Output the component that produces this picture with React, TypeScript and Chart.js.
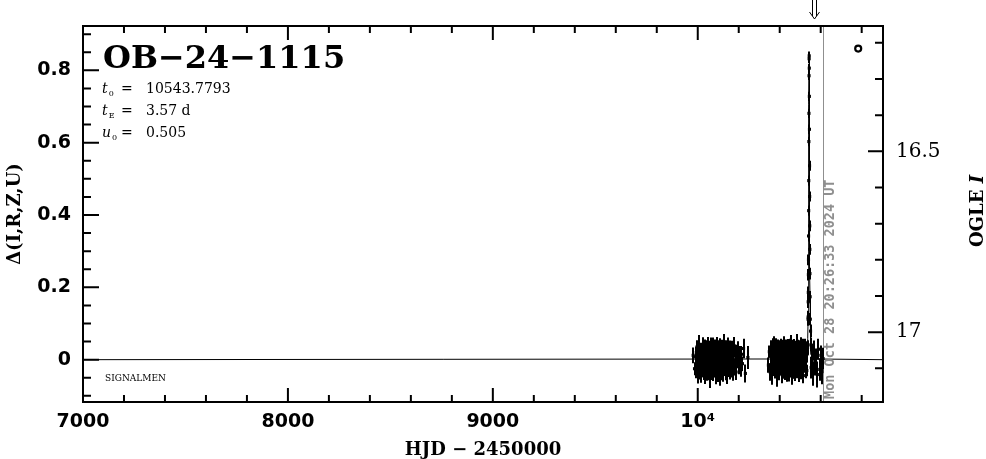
import React, { useEffect, useRef } from 'react';
import { Chart, registerables } from 'chart.js';

Chart.register(...registerables);

// ---------- texts ----------
const eventName = 'OB−24−1115';
const t0Text = '10543.7793';
const tEText = '3.57 d';
const u0Text = '0.505';
const surveyNote = 'SIGNALMEN';
const dateStamp = 'Mon Oct 28 20:26:33 2024 UT';
const xTitle = 'HJD − 2450000';
const yTitle = 'Δ(I,R,Z,U)';
const magTitleMain = 'OGLE ';
const magTitleBand = 'I';

// ---------- axes ----------
const xMin = 7000;
const xMax = 10904;
const yMin = -0.117;
const yMax = 0.9225;
const magTop = 16.1535;
const magBottom = 17.193;
const xMajorTicks = [7000, 8000, 9000, 10000];
const xMinorStep = 200;
const yMajorTicks = [0, 0.2, 0.4, 0.6, 0.8];
const yMinorStep = 0.05;
const magMajorTicks = [16.5, 17];
const magMinorStep = 0.1;

// ---------- markers ----------
const dateStampHjd = 10612.35;
const arrowHjd = 10565;
const ogleMarkerHjd = [10783];
const ogleMarkerDelta = [0.86];

// ---------- 2023 season (HJD-2450000, delta in mmag, error in mmag) ----------
const s23Hjd = [
  9977.6, 9984.2, 9989.5, 9991.8, 9993.1, 9994.9, 9996.0, 9997.6, 9998.8, 10000.4,
  10001.3, 10003.0, 10004.2, 10005.9, 10006.8, 10008.6, 10009.5, 10011.3, 10012.4, 10014.1,
  10015.0, 10016.9, 10017.8, 10019.6, 10020.5, 10022.4, 10023.3, 10025.1, 10026.2, 10027.9,
  10028.8, 10030.7, 10031.6, 10033.4, 10034.5, 10036.3, 10037.1, 10039.0, 10039.9, 10041.8,
  10042.6, 10044.5, 10045.4, 10047.3, 10048.2, 10050.0, 10051.0, 10052.8, 10053.7, 10055.6,
  10056.4, 10058.3, 10059.2, 10061.1, 10061.9, 10063.8, 10064.7, 10066.6, 10067.5, 10069.3,
  10070.2, 10072.1, 10073.0, 10074.9, 10075.7, 10077.6, 10078.5, 10080.4, 10081.3, 10083.1,
  10084.0, 10085.9, 10086.8, 10088.7, 10089.5, 10091.4, 10092.3, 10094.2, 10095.1, 10096.9,
  10097.8, 10099.7, 10100.6, 10102.5, 10103.3, 10105.2, 10106.1, 10108.0, 10108.9, 10110.7,
  10111.6, 10113.5, 10114.4, 10116.3, 10117.1, 10119.0, 10119.9, 10121.8, 10122.7, 10124.5,
  10125.4, 10127.3, 10128.2, 10130.1, 10130.9, 10132.8, 10133.7, 10135.6, 10136.5, 10138.3,
  10139.2, 10141.1, 10142.0, 10143.9, 10144.7, 10146.6, 10147.5, 10149.4, 10150.3, 10152.1,
  10153.0, 10154.9, 10155.8, 10157.7, 10158.5, 10160.4, 10161.3, 10163.2, 10164.1, 10165.9,
  10167.6, 10169.8, 10171.5, 10174.2, 10176.4, 10179.1, 10181.3, 10184.6, 10187.2, 10190.5,
  10193.8, 10197.6, 10201.0, 10204.9, 10209.3, 10213.2, 10218.1, 10223.5, 10232.4, 10244.6,
];
const s23DeltaMmag = [
  12, -25, 8, -31, 20, -4, 35, -18, 3, -40, 27, -9, 15, -22, 41, -1, -33, 10, 24, -14,
  6, -45, 30, -7, 18, -27, 2, 38, -19, 11, -36, 22, -5, 29, -12, 7, -42, 16, 33, -24,
  -2, 19, -38, 9, 26, -16, 44, -29, 4, -11, 31, -21, 13, -47, 21, -6, 37, -17, 1, -34,
  25, -10, 14, -39, 43, -3, -26, 17, 8, -30, 34, -13, 5, -44, 28, -8, 12, -23, 46, -15,
  -1, 23, -37, 10, 32, -20, 3, -48, 39, -11, 18, -28, 6, 40, -19, 15, -35, 27, -4, 9,
  -41, 20, -14, 48, -25, 2, 30, -9, -32, 13, 36, -18, 7, -43, 24, -6, 42, -22, 11, -31,
  19, -2, -37, 26, 5, -16, 33, -27, 14, -8, 29, -40, 3, 21, -13, 38, -24, 10, -34, 17,
  -5, 25, -19, 8, -29, 15, -11, 31, -38, 6,
];
const s23ErrMmag = [
  22, 18, 25, 20, 16, 28, 19, 23, 17, 26, 21, 15, 24, 19, 27, 18, 22, 30, 16, 20,
  25, 19, 17, 23, 28, 21, 18, 24, 16, 26, 20, 22, 15, 27, 19, 23, 25, 17, 21, 29,
  18, 24, 20, 16, 26, 22, 19, 28, 17, 23, 21, 25, 18, 31, 20, 16, 24, 19, 27, 22,
  17, 23, 26, 20, 18, 29, 21, 15, 25, 19, 22, 28, 16, 24, 20, 18, 26, 23, 17, 21,
  27, 19, 25, 16, 22, 30, 18, 24, 20, 17, 23, 28, 21, 15, 26, 19, 22, 25, 18, 24,
  20, 27, 16, 23, 19, 29, 22, 17, 25, 21, 18, 26, 20, 24, 16, 28, 19, 23, 22, 17,
  25, 21, 18, 27, 20, 24, 16, 22, 29, 19, 23, 18, 26, 21, 17, 25, 20, 28, 22, 24,
  19, 26, 21, 30, 18, 23, 20, 27, 25, 32,
];

// ---------- 2024 season ----------
const s24Hjd = [
  10344.8, 10349.3, 10353.6, 10356.9, 10359.4, 10361.2, 10362.8, 10364.1, 10365.7, 10367.0,
  10368.4, 10369.9, 10371.2, 10372.6, 10374.1, 10375.4, 10376.9, 10378.3, 10379.6, 10381.0,
  10382.5, 10383.8, 10385.2, 10386.7, 10388.0, 10389.4, 10390.9, 10392.2, 10393.6, 10395.0,
  10396.5, 10397.8, 10399.2, 10400.7, 10402.0, 10403.4, 10404.9, 10406.2, 10407.6, 10409.0,
  10410.5, 10411.8, 10413.2, 10414.7, 10416.0, 10417.4, 10418.9, 10420.2, 10421.6, 10423.0,
  10424.5, 10425.8, 10427.2, 10428.7, 10430.0, 10431.4, 10432.9, 10434.2, 10435.6, 10437.0,
  10438.5, 10439.8, 10441.2, 10442.7, 10444.0, 10445.4, 10446.9, 10448.2, 10449.6, 10451.0,
  10452.5, 10453.8, 10455.2, 10456.7, 10458.0, 10459.4, 10460.9, 10462.2, 10463.6, 10465.0,
  10466.5, 10467.8, 10469.2, 10470.7, 10472.0, 10473.4, 10474.9, 10476.2, 10477.6, 10479.0,
  10480.5, 10481.8, 10483.2, 10484.7, 10486.0, 10487.4, 10488.9, 10490.2, 10491.6, 10493.0,
  10494.5, 10495.8, 10497.2, 10498.7, 10500.0, 10501.4, 10502.9, 10504.2, 10505.6, 10507.0,
  10508.5, 10509.8, 10511.2, 10512.7, 10514.0, 10515.4, 10516.9, 10518.2, 10519.6, 10521.0,
  10522.5, 10523.8, 10525.2, 10526.7, 10528.0, 10529.4, 10530.9, 10532.2, 10534.6, 10536.1,
  10553.4, 10556.8, 10561.2, 10566.5, 10571.9, 10577.3, 10583.6, 10589.1, 10595.4, 10600.8,
  10606.2, 10611.5,
];
const s24DeltaMmag = [
  -15, 22, -34, 9, 28, -6, 17, -41, 3, 36,
  -20, 12, -28, 44, -9, 25, -37, 6, 19, -13,
  33, -25, 1, -46, 23, -3, 15, -32, 40, -17,
  8, -39, 27, -11, 20, -29, 4, 37, -22, 13,
  -7, 31, -43, 18, -1, 26, -35, 11, 42, -19,
  5, -30, 21, -10, 34, -24, 14, -2, 29, -45,
  16, -14, 38, -27, 7, 24, -38, 2, 32, -16,
  10, -33, 45, -8, 19, -21, 27, -47, 13, -4,
  35, -26, 6, 41, -12, 22, -36, 17, -5, 30,
  -18, 9, 47, -31, 15, -9, 39, -23, 4, 28,
  -40, 20, -14, 33, -1, 24, -34, 12, 43, -20,
  8, -27, 36, -11, 18, -44, 26, -6, 14, 31,
  -17, 5, 37, -24, 21, -3, 29, -30, 16, 34,
  -22, 18, -38, 25, -12, 6, -41, 29, -27, 12,
  -33, 3,
];
const s24ErrMmag = [
  21, 17, 24, 19, 26, 16, 22, 28, 18, 23,
  20, 25, 17, 21, 27, 19, 15, 24, 22, 18,
  26, 20, 23, 29, 17, 21, 25, 19, 16, 24,
  22, 18, 27, 20, 23, 15, 26, 21, 19, 28,
  17, 24, 22, 16, 25, 20, 18, 27, 23, 21,
  19, 26, 17, 24, 22, 30, 18, 20, 25, 16,
  23, 21, 19, 27, 17, 24, 22, 18, 26, 20,
  28, 16, 23, 21, 19, 25, 17, 22, 24, 18,
  20, 27, 21, 16, 25, 19, 23, 29, 18, 22,
  26, 17, 24, 20, 21, 28, 16, 23, 19, 25,
  22, 18, 27, 21, 17, 24, 20, 26, 19, 23,
  16, 25, 22, 18, 28, 21, 24, 17, 20, 26,
  19, 23, 21, 27, 18, 25, 22, 16, 24, 20,
  30, 26, 34, 28, 32, 25, 36, 29, 31, 27,
  35, 30,
];

// ---------- event points ----------
const evHjd = [
  10538.2, 10538.6, 10539.0, 10539.5, 10539.9, 10540.4, 10540.8, 10541.3, 10541.7, 10542.2,
  10542.6, 10543.1, 10543.5, 10543.9, 10544.3, 10544.7, 10545.2, 10545.6, 10546.1, 10546.5,
  10547.0, 10547.5, 10548.3, 10549.2, 10550.4, 10551.7,
];
const evDelta = [
  0.112, 0.118, 0.160, 0.186, 0.235, 0.276, 0.342, 0.412, 0.495, 0.603,
  0.681, 0.785, 0.832, 0.840, 0.806, 0.728, 0.637, 0.536, 0.451, 0.370,
  0.305, 0.238, 0.174, 0.112, 0.079, 0.041,
];
const evErrMmag = [
  18, 17, 17, 16, 16, 15, 15, 14, 14, 13,
  13, 12, 12, 12, 12, 13, 13, 14, 14, 15,
  15, 16, 16, 17, 18, 19,
];

// ---------- PSPL model curve (t0 = 10543.7793, tE = 3.57, u0 = 0.505) ----------
const modelHjd = [
  7000, 10522.36, 10529.5, 10533.07, 10534.85, 10536.64, 10538.07, 10539.14, 10540.21, 10540.92,
  10541.64, 10541.99, 10542.35, 10542.71, 10543.07, 10543.42, 10543.78, 10544.14, 10544.49, 10544.85,
  10545.21, 10545.56, 10545.92, 10546.64, 10547.35, 10548.42, 10549.49, 10550.92, 10552.71, 10554.49,
  10558.06, 10565.2, 10904,
];
const modelDelta = [
  0, 0.002, 0.008, 0.017, 0.031, 0.059, 0.103, 0.161, 0.257, 0.352,
  0.477, 0.551, 0.629, 0.706, 0.774, 0.821, 0.839, 0.821, 0.774, 0.706,
  0.629, 0.551, 0.477, 0.352, 0.257, 0.161, 0.103, 0.059, 0.031, 0.017,
  0.008, 0.002, 0,
];

const toPoints = (xs: number[], ys: number[], scale = 1) => xs.map((x, i) => ({ x, y: ys[i] * scale }));

const errSets: [number[], number[], number, number[]][] = [
  [s23Hjd, s23DeltaMmag, 0.001, s23ErrMmag],
  [s24Hjd, s24DeltaMmag, 0.001, s24ErrMmag],
  [evHjd, evDelta, 1, evErrMmag],
];

const SERIF = '"DejaVu Serif", serif';
const SANS = '"DejaVu Sans", sans-serif';

const decorPlugin = {
  id: 'decor',
  beforeDatasetsDraw(chart: any) {
    const { ctx, chartArea: a, scales } = chart;
    const x = scales.x;
    const y = scales.y;
    ctx.save();
    ctx.beginPath();
    ctx.rect(a.left, a.top, a.right - a.left, a.bottom - a.top);
    ctx.clip();
    const gx = Math.round(x.getPixelForValue(dateStampHjd)) + 0.5;
    ctx.strokeStyle = '#8f8f8f';
    ctx.lineWidth = 1;
    ctx.beginPath();
    ctx.moveTo(gx, a.top);
    ctx.lineTo(gx, a.bottom);
    ctx.stroke();
    ctx.strokeStyle = '#000';
    ctx.lineWidth = 2;
    ctx.beginPath();
    for (const [xs, ds, k, es] of errSets) {
      for (let i = 0; i < xs.length; i++) {
        const px = Math.round(x.getPixelForValue(xs[i]));
        const d = ds[i] * k;
        const e = es[i] * 0.001;
        ctx.moveTo(px, y.getPixelForValue(d - e));
        ctx.lineTo(px, y.getPixelForValue(d + e));
      }
    }
    ctx.stroke();
    ctx.restore();
  },
  afterDraw(chart: any) {
    const { ctx, chartArea: a, scales } = chart;
    const x = scales.x;
    const y = scales.y;
    const m = scales.y2;
    ctx.save();
    // frame
    ctx.strokeStyle = '#000';
    ctx.lineWidth = 2;
    ctx.strokeRect(a.left, a.top, a.right - a.left, a.bottom - a.top);
    // ticks
    ctx.beginPath();
    for (let v = xMin; v <= xMax; v += xMinorStep) {
      const px = x.getPixelForValue(v);
      const len = xMajorTicks.includes(v) || v % 1000 === 0 ? 14 : 7;
      ctx.moveTo(px, a.bottom);
      ctx.lineTo(px, a.bottom - len);
      ctx.moveTo(px, a.top);
      ctx.lineTo(px, a.top + len);
    }
    for (let k = Math.ceil(yMin / yMinorStep); k * yMinorStep <= yMax; k++) {
      const v = k * yMinorStep;
      const py = y.getPixelForValue(v);
      const len = k % 4 === 0 ? 16 : 8;
      ctx.moveTo(a.left, py);
      ctx.lineTo(a.left + len, py);
    }
    for (let k = Math.ceil(magTop / magMinorStep); k * magMinorStep <= magBottom; k++) {
      const py = m.getPixelForValue(k * magMinorStep);
      const len = k % 5 === 0 ? 15 : 8;
      ctx.moveTo(a.right, py);
      ctx.lineTo(a.right - len, py);
    }
    ctx.stroke();

    // arrow at top
    const ax = Math.round(x.getPixelForValue(arrowHjd)) + 0.5;
    ctx.lineWidth = 1;
    ctx.beginPath();
    ctx.moveTo(ax - 2, 0);
    ctx.lineTo(ax - 2, 16);
    ctx.moveTo(ax + 2, 0);
    ctx.lineTo(ax + 2, 16);
    ctx.moveTo(ax - 5, 12);
    ctx.lineTo(ax, 19);
    ctx.lineTo(ax + 5, 12);
    ctx.stroke();

    // texts
    ctx.fillStyle = '#000';
    ctx.textAlign = 'left';
    ctx.textBaseline = 'alphabetic';
    ctx.font = `bold 32px ${SERIF}`;
    ctx.fillText(eventName, a.left + 20, 68);

    const pl = a.left + 19;
    const param = (sym: string, sub: string, val: string, base: number) => {
      ctx.font = `italic 14px ${SERIF}`;
      ctx.fillText(sym, pl, base);
      const w = ctx.measureText(sym).width;
      ctx.font = `8px ${SERIF}`;
      ctx.fillText(sub, pl + w + 1, base + 3);
      ctx.font = `14px ${SERIF}`;
      ctx.fillText('=', pl + 19, base);
      ctx.fillText(val, pl + 44, base);
    };
    param('t', '0', t0Text, 93);
    param('t', 'E', tEText, 115);
    param('u', '0', u0Text, 137);

    ctx.font = `9px ${SERIF}`;
    ctx.fillText(surveyNote, a.left + 22, 381);

    // x title
    ctx.font = `bold 18px ${SERIF}`;
    ctx.textAlign = 'center';
    ctx.fillText(xTitle, (a.left + a.right) / 2, 455);

    // y title
    const midY = (a.top + a.bottom) / 2;
    ctx.save();
    ctx.translate(20, midY);
    ctx.rotate(-Math.PI / 2);
    ctx.textAlign = 'center';
    ctx.fillText(yTitle, 0, 0);
    ctx.restore();

    // right title
    ctx.save();
    ctx.translate(983, midY - 3);
    ctx.rotate(-Math.PI / 2);
    ctx.textAlign = 'left';
    ctx.font = `bold 18px ${SERIF}`;
    const w1 = ctx.measureText(magTitleMain).width;
    ctx.font = `bold italic 18px ${SERIF}`;
    const w2 = ctx.measureText(magTitleBand).width;
    const start = -(w1 + w2) / 2;
    ctx.font = `bold 18px ${SERIF}`;
    ctx.fillText(magTitleMain, start, 0);
    ctx.font = `bold italic 18px ${SERIF}`;
    ctx.fillText(magTitleBand, start + w1, 0);
    ctx.restore();

    // date stamp
    const gx = x.getPixelForValue(dateStampHjd);
    ctx.save();
    ctx.translate(gx + 11, a.bottom - 3);
    ctx.rotate(-Math.PI / 2);
    ctx.textAlign = 'left';
    ctx.fillStyle = '#8f8f8f';
    ctx.font = `bold 13.5px "DejaVu Sans Mono", monospace`;
    ctx.fillText(dateStamp, 0, 0);
    ctx.restore();

    ctx.restore();
  },
};

export default function App() {
  const ref = useRef<HTMLCanvasElement | null>(null);
  useEffect(() => {
    if (!ref.current) return;
    const pointDs = (data: any[]) => ({
      type: 'scatter' as const,
      data,
      pointStyle: 'rect',
      pointRadius: 2.2,
      pointBackgroundColor: '#000',
      pointBorderWidth: 0,
      showLine: false,
    });
    const chart = new Chart(ref.current, {
      type: 'scatter',
      data: {
        datasets: [
          {
            type: 'scatter',
            data: toPoints(modelHjd, modelDelta),
            showLine: true,
            borderColor: '#000',
            borderWidth: 1,
            pointRadius: 0,
          } as any,
          pointDs(toPoints(s23Hjd, s23DeltaMmag, 0.001)),
          pointDs(toPoints(s24Hjd, s24DeltaMmag, 0.001)),
          pointDs(toPoints(evHjd, evDelta)),
          {
            type: 'scatter',
            data: toPoints(ogleMarkerHjd, ogleMarkerDelta),
            pointStyle: 'circle',
            pointRadius: 3,
            pointBorderWidth: 2.2,
            pointBorderColor: '#000',
            pointBackgroundColor: 'rgba(0,0,0,0)',
          } as any,
        ],
      },
      options: {
        animation: false,
        responsive: false,
        maintainAspectRatio: false,
        devicePixelRatio: 1,
        layout: { padding: { top: 26, left: 0, right: 0, bottom: 0 } },
        plugins: { legend: { display: false }, tooltip: { enabled: false }, title: { display: false } },
        scales: {
          x: {
            type: 'linear',
            position: 'bottom',
            min: xMin,
            max: xMax,
            grid: { display: false, drawTicks: false },
            border: { display: false },
            afterBuildTicks: (s: any) => {
              s.ticks = xMajorTicks.map((v) => ({ value: v }));
            },
            afterFit: (s: any) => {
              s.height = 57;
            },
            ticks: {
              autoSkip: false,
              maxRotation: 0,
              minRotation: 0,
              padding: 9,
              color: '#000',
              font: { family: SANS, size: 19, weight: 'bold' },
              callback: (v: any) => (Number(v) === 10000 ? '10⁴' : String(v)),
            },
          },
          y: {
            type: 'linear',
            position: 'left',
            min: yMin,
            max: yMax,
            grid: { display: false, drawTicks: false },
            border: { display: false },
            afterBuildTicks: (s: any) => {
              s.ticks = yMajorTicks.map((v) => ({ value: v }));
            },
            afterFit: (s: any) => {
              s.width = 83;
            },
            ticks: {
              autoSkip: false,
              padding: 12,
              color: '#000',
              font: { family: SANS, size: 19, weight: 'bold' },
              callback: (v: any) => (Number(v) === 0 ? '0' : Number(v).toFixed(1)),
            },
          },
          y2: {
            type: 'linear',
            position: 'right',
            reverse: true,
            min: magTop,
            max: magBottom,
            grid: { display: false, drawTicks: false },
            border: { display: false },
            afterBuildTicks: (s: any) => {
              s.ticks = magMajorTicks.map((v) => ({ value: v }));
            },
            afterFit: (s: any) => {
              s.width = 103;
            },
            ticks: {
              autoSkip: false,
              padding: 13,
              color: '#000',
              font: { family: SERIF, size: 20 },
              callback: (v: any) => String(v),
            },
          },
        },
      } as any,
      plugins: [decorPlugin],
    });
    return () => chart.destroy();
  }, []);
  return (
    <div style={{ position: 'fixed', left: 0, top: 0, width: 986, height: 459, background: '#fff' }}>
      <canvas ref={ref} width={986} height={459} style={{ display: 'block' }} />
    </div>
  );
}
